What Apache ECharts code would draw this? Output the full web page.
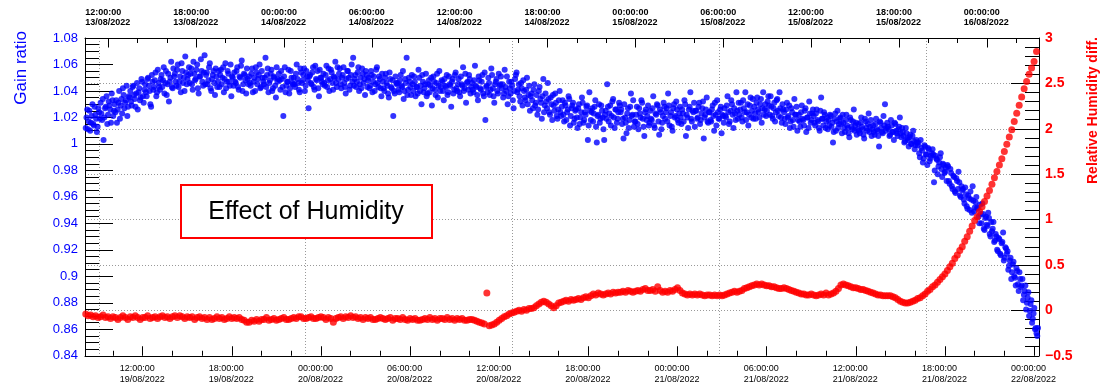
<!DOCTYPE html>
<html><head><meta charset="utf-8">
<script src="https://cdn.jsdelivr.net/npm/echarts@6/dist/echarts.min.js"></script>
<style>html,body{margin:0;padding:0;background:#fff}#c{width:1109px;height:384px}</style>
</head><body><div id="c"></div>
<script>
const FONT = 'Liberation Sans';

// Sampling of the measured series (local time)
const gainStartA = '2022-08-19 08:10';
const gainStartB = '2022-08-19 08:13';
const gainStepMinutes = 6;
const humidityStart = '2022-08-19 08:10';
const humidityStepMinutes = 10;

// Gain ratio (left axis), readings at :10, :16, ... (10 per hour)
const gainRatioA = [
1.012,1.026,1.017,1.010,1.021,1.015,1.028,1.019,1.013,1.024,
1.031,1.018,1.003,1.027,1.036,1.022,1.029,1.016,1.033,1.025,
1.024,1.016,1.031,1.019,1.034,1.042,1.027,1.033,1.021,1.036,
1.040,1.029,1.044,1.034,1.038,1.026,1.042,1.035,1.047,1.031,
1.045,1.036,1.050,1.040,1.028,1.047,1.043,1.054,1.039,1.046,
1.041,1.052,1.048,1.038,1.055,1.045,1.032,1.050,1.043,1.057,
1.053,1.044,1.060,1.047,1.039,1.055,1.050,1.066,1.045,1.052,
1.046,1.057,1.041,1.053,1.049,1.060,1.038,1.051,1.055,1.044,
1.067,1.052,1.045,1.058,1.042,1.049,1.055,1.037,1.051,1.047,
1.043,1.056,1.050,1.039,1.061,1.047,1.053,1.044,1.036,1.050,
1.054,1.046,1.058,1.041,1.050,1.063,1.045,1.052,1.038,1.049,
1.051,1.044,1.057,1.047,1.040,1.054,1.049,1.060,1.043,1.050,
1.045,1.065,1.052,1.039,1.048,1.056,1.042,1.050,1.035,1.047,
1.053,1.041,1.049,1.021,1.058,1.044,1.047,1.038,1.055,1.046,
1.050,1.043,1.060,1.046,1.039,1.054,1.048,1.057,1.044,1.051,
1.027,1.052,1.045,1.058,1.041,1.049,1.055,1.036,1.050,1.047,
1.053,1.044,1.059,1.048,1.040,1.056,1.046,1.051,1.062,1.043,
1.049,1.057,1.042,1.052,1.046,1.038,1.055,1.050,1.044,1.060,
1.065,1.049,1.043,1.054,1.040,1.050,1.057,1.046,1.037,1.052,
1.048,1.042,1.055,1.039,1.051,1.045,1.058,1.043,1.049,1.036,
1.047,1.040,1.053,1.044,1.035,1.049,1.042,1.021,1.038,1.046,
1.046,1.039,1.052,1.043,1.034,1.049,1.065,1.041,1.047,1.037,
1.045,1.051,1.036,1.043,1.056,1.040,1.030,1.047,1.042,1.053,
1.038,1.048,1.044,1.029,1.051,1.041,1.046,1.035,1.055,1.043,
1.047,1.033,1.044,1.052,1.039,1.045,1.028,1.049,1.041,1.054,
1.040,1.049,1.036,1.045,1.058,1.042,1.031,1.047,1.052,1.038,
1.046,1.039,1.059,1.043,1.033,1.048,1.041,1.052,1.036,1.018,
1.044,1.050,1.037,1.057,1.042,1.031,1.047,1.040,1.053,1.045,
1.042,1.035,1.056,1.040,1.030,1.047,1.038,1.044,1.027,1.049,
1.054,1.041,1.036,1.046,1.029,1.040,1.033,1.050,1.037,1.025,
1.038,1.027,1.045,1.031,1.022,1.040,1.034,1.019,1.049,1.029,
1.032,1.046,1.024,1.035,1.018,1.029,1.038,1.021,1.026,1.040,
1.021,1.033,1.017,1.029,1.024,1.036,1.014,1.027,1.031,1.019,
1.026,1.012,1.030,1.020,1.035,1.016,1.024,1.028,1.003,1.039,
1.018,1.027,1.023,1.033,1.001,1.022,1.016,1.029,1.020,1.003,
1.025,1.045,1.017,1.029,1.021,1.034,1.012,1.026,1.019,1.031,
1.024,1.015,1.004,1.020,1.008,1.027,1.018,1.038,1.022,1.013,
1.017,1.028,1.011,1.023,1.033,1.019,1.006,1.026,1.021,1.014,
1.025,1.018,1.036,1.012,1.022,1.029,1.007,1.024,1.016,1.031,
1.019,1.027,1.038,1.014,1.024,1.010,1.030,1.021,1.026,1.016,
1.028,1.015,1.023,1.033,1.006,1.020,1.026,1.039,1.017,1.024,
1.013,1.025,1.020,1.031,1.018,1.027,1.004,1.022,1.035,1.016,
1.024,1.017,1.029,1.010,1.022,1.033,1.019,1.026,1.008,1.021,
1.027,1.020,1.036,1.015,1.025,1.030,1.012,1.023,1.039,1.019,
1.022,1.031,1.017,1.027,1.039,1.024,1.014,1.029,1.020,1.034,
1.028,1.019,1.035,1.024,1.030,1.016,1.039,1.026,1.021,1.032,
1.029,1.036,1.021,1.027,1.017,1.033,1.025,1.039,1.020,1.030,
1.024,1.015,1.031,1.021,1.012,1.027,1.018,1.034,1.022,1.010,
1.022,1.013,1.029,1.018,1.025,1.009,1.020,1.032,1.016,1.023,
1.021,1.014,1.026,1.017,1.010,1.035,1.019,1.024,1.012,1.020,
1.018,1.022,1.013,1.001,1.019,1.010,1.025,1.015,1.020,1.008,
1.016,1.009,1.022,1.012,1.005,1.018,1.011,1.026,1.014,1.007,
1.015,1.008,1.020,1.011,1.004,1.017,1.010,1.023,1.013,1.006,
1.014,1.007,1.019,1.010,0.998,1.016,1.009,1.021,1.030,1.012,
1.013,1.006,1.018,1.009,1.003,1.015,1.008,1.011,1.020,1.005,
1.009,1.001,1.012,1.004,0.998,1.007,1.000,1.010,0.996,1.003,
0.999,0.993,1.003,0.995,0.989,0.998,0.992,0.997,0.987,0.991,
0.996,0.971,0.991,0.988,0.983,0.990,0.981,0.985,0.978,0.982,
0.984,0.972,0.981,0.968,0.976,0.964,0.974,0.966,0.971,0.960,
0.965,0.958,0.967,0.953,0.961,0.950,0.958,0.968,0.949,0.956,
0.952,0.945,0.954,0.940,0.947,0.935,0.945,0.938,0.944,0.930,
0.934,0.941,0.927,0.930,0.919,0.928,0.916,0.926,0.912,0.922,
0.917,0.905,0.912,0.898,0.909,0.900,0.893,0.904,0.889,0.898,
0.893,0.882,0.889,0.875,0.884,0.870,0.879,0.865,0.872,0.860,
0.857,0.861
];

// Gain ratio (left axis), readings at :13, :19, ... (10 per hour)
const gainRatioB = [
1.020,1.011,1.025,1.016,1.030,1.014,1.022,1.009,1.027,1.019,
1.023,1.034,1.020,1.028,1.015,1.032,1.026,1.038,1.021,1.030,
1.033,1.026,1.040,1.029,1.023,1.037,1.031,1.044,1.028,1.035,
1.032,1.043,1.037,1.028,1.046,1.039,1.033,1.049,1.036,1.041,
1.039,1.049,1.044,1.030,1.052,1.041,1.048,1.036,1.056,1.043,
1.049,1.043,1.058,1.046,1.037,1.053,1.047,1.062,1.042,1.051,
1.047,1.056,1.043,1.051,1.061,1.046,1.040,1.054,1.049,1.058,
1.053,1.045,1.062,1.048,1.056,1.042,1.051,1.064,1.047,1.054,
1.045,1.054,1.048,1.061,1.040,1.052,1.046,1.057,1.043,1.055,
1.052,1.045,1.058,1.049,1.042,1.055,1.047,1.060,1.051,1.044,
1.047,1.055,1.043,1.051,1.059,1.040,1.053,1.048,1.057,1.045,
1.046,1.053,1.039,1.050,1.058,1.045,1.052,1.042,1.055,1.047,
1.050,1.043,1.057,1.046,1.053,1.040,1.051,1.044,1.058,1.049,
1.048,1.055,1.043,1.051,1.039,1.047,1.056,1.042,1.050,1.045,
1.045,1.053,1.049,1.041,1.057,1.046,1.052,1.040,1.055,1.048,
1.051,1.046,1.054,1.043,1.059,1.048,1.042,1.056,1.050,1.045,
1.046,1.052,1.043,1.057,1.049,1.054,1.041,1.050,1.046,1.058,
1.053,1.045,1.050,1.058,1.043,1.049,1.055,1.041,1.052,1.047,
1.044,1.052,1.047,1.058,1.045,1.042,1.053,1.049,1.055,1.043,
1.050,1.044,1.052,1.047,1.040,1.056,1.046,1.051,1.042,1.053,
1.042,1.050,1.046,1.038,1.054,1.043,1.048,1.040,1.051,1.045,
1.041,1.048,1.044,1.055,1.040,1.046,1.037,1.050,1.043,1.052,
1.040,1.047,1.043,1.038,1.050,1.044,1.052,1.039,1.045,1.036,
1.045,1.039,1.050,1.042,1.047,1.037,1.053,1.044,1.040,1.048,
1.040,1.049,1.043,1.037,1.051,1.044,1.047,1.038,1.052,1.042,
1.045,1.039,1.051,1.044,1.040,1.053,1.046,1.041,1.049,1.043,
1.041,1.048,1.044,1.037,1.051,1.042,1.047,1.038,1.054,1.043,
1.039,1.046,1.041,1.052,1.036,1.045,1.049,1.038,1.044,1.051,
1.045,1.038,1.043,1.051,1.036,1.042,1.047,1.033,1.040,1.052,
1.039,1.045,1.032,1.042,1.048,1.035,1.041,1.030,1.044,1.036,
1.033,1.041,1.029,1.037,1.026,1.043,1.031,1.036,1.024,1.038,
1.027,1.034,1.022,1.030,1.037,1.025,1.031,1.019,1.033,1.024,
1.028,1.022,1.031,1.018,1.026,1.034,1.021,1.029,1.016,1.025,
1.020,1.027,1.015,1.024,1.031,1.018,1.022,1.029,1.014,1.025,
1.024,1.017,1.028,1.013,1.021,1.030,1.019,1.025,1.011,1.022,
1.019,1.028,1.023,1.014,1.032,1.020,1.026,1.016,1.024,1.029,
1.026,1.019,1.030,1.016,1.023,1.012,1.028,1.021,1.033,1.017,
1.022,1.015,1.027,1.020,1.031,1.013,1.024,1.018,1.029,1.016,
1.019,1.027,1.014,1.023,1.030,1.017,1.026,1.011,1.021,1.028,
1.024,1.017,1.029,1.021,1.013,1.027,1.020,1.032,1.018,1.023,
1.020,1.026,1.017,1.030,1.022,1.012,1.028,1.019,1.025,1.031,
1.025,1.019,1.028,1.015,1.023,1.032,1.020,1.026,1.017,1.024,
1.018,1.026,1.021,1.031,1.014,1.024,1.019,1.028,1.022,1.016,
1.021,1.029,1.024,1.017,1.033,1.022,1.027,1.018,1.025,1.031,
1.026,1.020,1.033,1.024,1.018,1.030,1.022,1.035,1.025,1.019,
1.023,1.031,1.026,1.020,1.034,1.027,1.022,1.030,1.025,1.036,
1.022,1.028,1.019,1.031,1.024,1.034,1.021,1.027,1.016,1.026,
1.019,1.026,1.020,1.029,1.017,1.024,1.013,1.022,1.028,1.018,
1.017,1.024,1.019,1.014,1.027,1.020,1.012,1.023,1.018,1.026,
1.016,1.023,1.018,1.012,1.025,1.019,1.014,1.022,1.017,1.011,
1.014,1.021,1.016,1.009,1.023,1.017,1.012,1.019,1.015,1.022,
1.012,1.018,1.014,1.008,1.020,1.013,1.017,1.010,1.016,1.011,
1.010,1.016,1.013,1.007,1.019,1.012,1.015,1.009,1.018,1.011,
1.009,1.015,1.011,1.006,1.017,1.012,1.008,1.014,1.010,1.016,
1.011,1.007,1.014,1.009,1.016,1.010,1.006,1.013,1.008,1.012,
1.006,1.002,1.008,1.003,1.005,1.000,1.006,1.002,0.999,1.001,
1.001,0.990,0.997,0.986,0.999,0.992,0.984,0.996,0.989,0.993,
0.992,0.980,0.989,0.977,0.986,0.993,0.975,0.984,0.979,0.972,
0.983,0.970,0.978,0.966,0.975,0.963,0.972,0.979,0.961,0.968,
0.966,0.955,0.962,0.951,0.959,0.964,0.948,0.957,0.952,0.960,
0.951,0.940,0.947,0.955,0.936,0.944,0.939,0.948,0.932,0.941,
0.936,0.926,0.932,0.920,0.929,0.917,0.925,0.933,0.914,0.921,
0.919,0.908,0.914,0.903,0.911,0.899,0.906,0.894,0.903,0.892,
0.898,0.886,0.893,0.880,0.888,0.874,0.882,0.868,0.876,0.861,
0.855
];

// Relative humidity difference (right axis), 6 samples per hour
const humidityDiff = [
-0.04,-0.06,-0.05,-0.07,-0.06,-0.08,
-0.07,-0.05,-0.08,-0.07,-0.09,-0.07,
-0.08,-0.10,-0.08,-0.06,-0.08,-0.10,
-0.07,-0.08,-0.06,-0.08,-0.10,-0.08,
-0.08,-0.06,-0.09,-0.08,-0.07,-0.09,
-0.07,-0.06,-0.08,-0.07,-0.09,-0.07,
-0.06,-0.08,-0.06,-0.07,-0.09,-0.07,
-0.08,-0.07,-0.10,-0.08,-0.07,-0.09,
-0.08,-0.10,-0.08,-0.10,-0.09,-0.07,
-0.09,-0.08,-0.10,-0.09,-0.07,-0.09,
-0.08,-0.09,-0.08,-0.10,-0.11,-0.13,
-0.13,-0.11,-0.12,-0.10,-0.12,-0.10,
-0.10,-0.08,-0.11,-0.10,-0.09,-0.11,
-0.10,-0.09,-0.08,-0.10,-0.10,-0.09,
-0.08,-0.09,-0.07,-0.07,-0.09,-0.09,
-0.08,-0.07,-0.09,-0.09,-0.08,-0.07,
-0.08,-0.10,-0.08,-0.09,-0.13,-0.09,
-0.08,-0.07,-0.09,-0.07,-0.08,-0.06,
-0.08,-0.07,-0.09,-0.08,-0.10,-0.08,
-0.09,-0.08,-0.10,-0.10,-0.09,-0.08,
-0.09,-0.10,-0.09,-0.08,-0.11,-0.09,
-0.09,-0.10,-0.08,-0.10,-0.11,-0.09,
-0.10,-0.09,-0.11,-0.11,-0.10,-0.09,
-0.10,-0.08,-0.10,-0.09,-0.11,-0.09,
-0.09,-0.10,-0.08,-0.10,-0.09,-0.11,
-0.09,-0.10,-0.09,-0.11,-0.11,-0.10,
-0.10,-0.11,-0.12,-0.13,-0.14,-0.15,
0.19,-0.17,-0.16,-0.15,-0.13,-0.11,
-0.09,-0.07,-0.06,-0.04,-0.03,-0.02,
-0.01,0.00,-0.01,0.01,0.00,0.02,
0.02,0.03,0.05,0.07,0.09,0.10,
0.09,0.07,0.05,0.03,0.05,0.08,
0.09,0.10,0.11,0.10,0.12,0.11,
0.12,0.13,0.12,0.14,0.15,0.14,
0.16,0.18,0.17,0.19,0.18,0.17,
0.18,0.19,0.18,0.20,0.19,0.20,
0.20,0.21,0.20,0.22,0.21,0.20,
0.21,0.22,0.21,0.23,0.24,0.22,
0.22,0.23,0.21,0.26,0.22,0.20,
0.21,0.20,0.22,0.21,0.23,0.25,
0.22,0.19,0.18,0.17,0.18,0.17,
0.18,0.17,0.18,0.17,0.16,0.17,
0.17,0.16,0.17,0.16,0.17,0.16,
0.17,0.18,0.19,0.20,0.21,0.20,
0.21,0.22,0.24,0.25,0.26,0.27,
0.28,0.29,0.28,0.29,0.28,0.27,
0.27,0.26,0.26,0.25,0.24,0.24,
0.25,0.24,0.23,0.22,0.21,0.20,
0.19,0.18,0.18,0.17,0.17,0.18,
0.17,0.16,0.17,0.18,0.17,0.19,
0.17,0.18,0.19,0.21,0.24,0.28,
0.29,0.28,0.27,0.26,0.25,0.25,
0.24,0.23,0.23,0.22,0.21,0.20,
0.19,0.18,0.17,0.17,0.16,0.16,
0.16,0.16,0.15,0.14,0.12,0.10,
0.09,0.08,0.08,0.09,0.10,0.11,
0.13,0.14,0.16,0.18,0.21,0.23,
0.26,0.28,0.31,0.34,0.37,0.40,
0.44,0.48,0.52,0.57,0.61,0.66,
0.70,0.76,0.81,0.87,0.93,0.99,
1.03,1.09,1.14,1.20,1.26,1.32,
1.39,1.46,1.53,1.60,1.67,1.75,
1.83,1.91,1.99,2.08,2.17,2.26,
2.35,2.44,2.52,2.60,2.67,2.74,
2.85
];

// Axis ranges and tick labels
const bottomRange = ['2022-08-19 08:07', '2022-08-22 00:20'];
const bottomTickLabels = ['2022-08-19 12:00','2022-08-19 18:00','2022-08-20 00:00','2022-08-20 06:00',
  '2022-08-20 12:00','2022-08-20 18:00','2022-08-21 00:00','2022-08-21 06:00','2022-08-21 12:00',
  '2022-08-21 18:00','2022-08-22 00:00'];
const topRange = ['2022-08-13 10:24:31', '2022-08-16 03:34:07'];
const topTickLabels = ['2022-08-13 12:00','2022-08-13 18:00','2022-08-14 00:00','2022-08-14 06:00',
  '2022-08-14 12:00','2022-08-14 18:00','2022-08-15 00:00','2022-08-15 06:00','2022-08-15 12:00',
  '2022-08-15 18:00','2022-08-16 00:00'];
const gridLineTimes = ['2022-08-19 09:04','2022-08-19 22:58','2022-08-20 12:54','2022-08-21 02:49','2022-08-21 16:45'];

function parseT(s) {
  const [d, t] = s.split(' ');
  const [Y, M, D] = d.split('-').map(Number);
  const [h, m, sec] = t.split(':').map(Number);
  return new Date(Y, M - 1, D, h, m, sec || 0).getTime();
}
const H = 3600 * 1000;
function minorTicks(majors, range) {
  const out = [];
  const lo = range[0], hi = range[1];
  for (let t = majors[0] - 2 * H; t >= lo; t -= 2 * H) out.push(t);
  for (let t = majors[0]; t <= hi; t += 2 * H) if (!majors.includes(t)) out.push(t);
  return out.sort((a, b) => a - b);
}
const p2 = n => String(n).padStart(2, '0');
const hms = v => { const d = new Date(v); return p2(d.getHours()) + ':' + p2(d.getMinutes()) + ':' + p2(d.getSeconds()); };
const dmy = v => { const d = new Date(v); return p2(d.getDate()) + '/' + p2(d.getMonth() + 1) + '/' + d.getFullYear(); };

const bRange = bottomRange.map(parseT), tRange = topRange.map(parseT);
const bMajor = bottomTickLabels.map(parseT), tMajor = topTickLabels.map(parseT);
const bMinor = minorTicks(bMajor, bRange), tMinor = minorTicks(tMajor, tRange);
const gridTimes = gridLineTimes.map(parseT);

const gA = parseT(gainStartA), gB = parseT(gainStartB), h0 = parseT(humidityStart);
const gainData = gainRatioA.map((v, i) => [gA + i * gainStepMinutes * 60000, v])
  .concat(gainRatioB.map((v, i) => [gB + i * gainStepMinutes * 60000, v]));
const humData = humidityDiff.map((v, i) => [h0 + i * humidityStepMinutes * 60000, v]);

const black = { color: '#000', width: 1 };
function timeAxis(pos, range, majors, minors, bold, margin) {
  return [{
    type: 'value', position: pos, min: range[0], max: range[1], scale: true,
    axisLine: { show: true, onZero: false, lineStyle: black },
    axisTick: { show: true, inside: true, length: 9.5, lineStyle: black, customValues: majors },
    axisLabel: {
      show: true, customValues: majors, margin: margin, showMinLabel: true, showMaxLabel: true,
      formatter: v => '{a|' + hms(v) + '}\n{a|' + dmy(v) + '}',
      rich: { a: { width: 46, align: 'left', fontSize: 9, lineHeight: 10.5, color: '#000',
        fontFamily: FONT, fontWeight: bold ? 'bold' : 'normal' } }
    },
    splitLine: { show: false }, minorTick: { show: false }
  }, {
    type: 'value', position: pos, min: range[0], max: range[1], scale: true,
    axisLine: { show: false, onZero: false },
    axisTick: { show: true, inside: true, length: 5, lineStyle: black, customValues: minors },
    axisLabel: { show: false }, splitLine: { show: false }
  }];
}

const chart = echarts.init(document.getElementById('c'), null, { renderer: 'canvas' });
chart.setOption({
  animation: false,
  backgroundColor: '#fff',
  grid: { left: 85, right: 70, top: 38, bottom: 28, containLabel: false },
  xAxis: [
    ...timeAxis('bottom', bRange, bMajor, bMinor, false, 8),
    ...timeAxis('top', tRange, tMajor, tMinor, true, 10),
    {
      type: 'value', position: 'bottom', min: bRange[0], max: bRange[1], scale: true,
      axisLine: { show: false, onZero: false },
      axisTick: { show: false, customValues: gridTimes },
      axisLabel: { show: false },
      splitLine: { show: true, lineStyle: { color: '#999', width: 1, type: [1, 2] } }
    }
  ],
  yAxis: [{
    type: 'value', position: 'left', min: 0.84, max: 1.08, interval: 0.02,
    axisLine: { show: true, onZero: false, lineStyle: black },
    axisTick: { show: true, inside: true, length: 28, lineStyle: black },
    minorTick: { show: true, splitNumber: 4, length: 14, lineStyle: black },
    axisLabel: { color: '#0000ff', fontSize: 13, fontFamily: FONT, margin: 7 },
    splitLine: { show: false }
  }, {
    type: 'value', position: 'right', min: -0.5, max: 3, interval: 0.5,
    axisLine: { show: true, onZero: false, lineStyle: black },
    axisTick: { show: true, inside: true, length: 28, lineStyle: black },
    minorTick: { show: true, splitNumber: 5, length: 14, lineStyle: black },
    axisLabel: { color: '#ff0000', fontSize: 14, fontWeight: 'bold', fontFamily: FONT, margin: 6,
      formatter: v => String(v).replace('-', '\u2212') },
    splitLine: { show: true, lineStyle: { color: '#999', width: 1, type: [1, 2] } }
  }],
  series: [{
    name: 'Gain ratio', type: 'scatter', xAxisIndex: 0, yAxisIndex: 0,
    symbol: 'circle', symbolSize: 6, data: gainData,
    itemStyle: { color: '#0000ff' }, z: 3
  }, {
    name: 'Relative Humidity diff.', type: 'scatter', xAxisIndex: 0, yAxisIndex: 1,
    symbol: 'circle', symbolSize: 7, data: humData,
    itemStyle: { color: '#ff0000' }, z: 4
  }],
  graphic: [
    { type: 'text', x: 21, y: 31, rotation: Math.PI / 2,
      style: { text: 'Gain ratio', fill: '#0000ff', font: '17px "Liberation Sans"', textAlign: 'right', textVerticalAlign: 'middle' } },
    { type: 'text', x: 1093, y: 37, rotation: Math.PI / 2,
      style: { text: 'Relative Humidity diff.', fill: '#ff0000', font: 'bold 14px "Liberation Sans"', textAlign: 'right', textVerticalAlign: 'middle' } },
    { type: 'rect', shape: { x: 181, y: 185, width: 251, height: 53 }, z: 10,
      style: { fill: '#fff', stroke: '#ff0000', lineWidth: 2 } },
    { type: 'text', x: 306, y: 212, z: 11,
      style: { text: 'Effect of Humidity', fill: '#000', font: '25px "Liberation Sans"', textAlign: 'center', textVerticalAlign: 'middle' } }
  ]
});
</script></body></html>
